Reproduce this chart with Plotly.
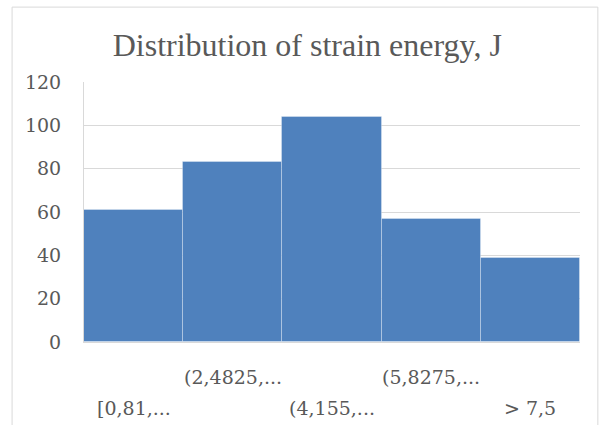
import plotly.graph_objects as go

categories = ["[0,81,...", "(2,4825,...", "(4,155,...", "(5,8275,...", "> 7,5"]
counts = [61, 83, 104, 57, 39]
y_ticks = [0, 20, 40, 60, 80, 100, 120]
title_text = "Distribution of strain energy, J"

fig = go.Figure()
fig.add_trace(go.Bar(
    x=categories, y=counts,
    marker=dict(color="#4F81BD", line=dict(color="rgba(255,255,255,0.3)", width=1)),
    width=1.0,
))

annotations = []
for i, c in enumerate(categories):
    row = 1 if i % 2 == 1 else 2
    annotations.append(dict(
        x=c, xref="x", y=0, yref="paper", yanchor="middle", xanchor="center",
        yshift=-35 if row == 1 else -66, showarrow=False, text=c,
        font=dict(family="DejaVu Serif", size=19, color="#595959"),
    ))

fig.update_layout(
    width=605, height=425,
    margin=dict(l=84, r=25, t=82, b=83),
    paper_bgcolor="white", plot_bgcolor="white",
    bargap=0, showlegend=False,
    title=dict(text=title_text, x=0.508, xref="container", xanchor="center", y=0.895, yanchor="middle",
               font=dict(family="Liberation Serif", size=32, color="#595959")),
    annotations=annotations,
    shapes=[dict(type="rect", xref="paper", yref="paper", x0=-0.145, x1=1.036,
                 y0=-0.4, y1=1.288, line=dict(color="#d9d9d9", width=1), layer="below")],
)
fig.update_xaxes(showticklabels=False, showgrid=False, showline=True, linecolor="#d9d9d9",
                 ticks="", range=[-0.5, 4.5])
fig.update_yaxes(range=[0, 120], tickvals=y_ticks, showgrid=True, gridcolor="#d9d9d9",
                 gridwidth=1, showline=True, linecolor="#d9d9d9", zeroline=False, ticks="",
                 ticklen=0, ticklabelstandoff=18,
                 tickfont=dict(family="DejaVu Serif", size=19, color="#595959"))

fig.write_html("out.html")
